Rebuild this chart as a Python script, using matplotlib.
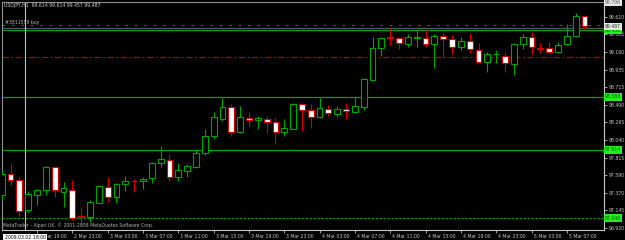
import matplotlib
matplotlib.use('Agg')
import matplotlib.pyplot as plt
import matplotlib.transforms as mtransforms
import numpy as np

# ---------------- data (USDJPY H1, starting 2009-03-02 15:00) ----------------
opens = [97.340, 97.608, 97.531, 97.150, 97.340, 97.404, 97.697, 97.379, 97.404, 97.067,
         97.061, 97.242, 97.442, 97.315, 97.480, 97.519, 97.519, 97.557, 97.748, 97.786,
         97.570, 97.650, 97.700, 97.875, 98.091, 98.307, 98.456, 98.138, 98.316, 98.291,
         98.307, 98.273, 98.138, 98.184, 98.498, 98.422, 98.329, 98.439, 98.371, 98.439,
         98.400, 98.464, 98.804, 99.207, 99.347, 99.334, 99.265, 99.344, 99.342, 99.265,
         99.363, 99.321, 99.220, 99.300, 99.185, 99.036, 99.131, 99.109, 99.007, 99.258,
         99.347, 99.215, 99.207, 99.156, 99.258, 99.363, 99.614]
highs = [97.659, 97.748, 97.570, 97.395, 97.417, 97.709, 97.700, 97.506, 97.531, 97.188,
         97.277, 97.468, 97.570, 97.493, 97.582, 97.544, 97.570, 97.760, 97.964, 97.862,
         97.748, 97.735, 97.913, 98.180, 98.396, 98.571, 98.498, 98.473, 98.400, 98.346,
         98.346, 98.316, 98.307, 98.507, 98.515, 98.498, 98.571, 98.486, 98.473, 98.507,
         98.584, 98.825, 99.347, 99.347, 99.461, 99.355, 99.389, 99.440, 99.449, 99.389,
         99.398, 99.376, 99.347, 99.398, 99.278, 99.164, 99.185, 99.164, 99.278, 99.389,
         99.418, 99.271, 99.291, 99.291, 99.516, 99.660, 99.614]
lows = [97.277, 97.468, 97.073, 97.124, 97.213, 97.340, 97.315, 97.188, 97.022, 96.959,
        96.997, 97.235, 97.251, 97.239, 97.391, 97.379, 97.417, 97.493, 97.697, 97.519,
        97.519, 97.570, 97.684, 97.849, 98.049, 98.286, 98.091, 98.135, 98.209, 98.184,
        98.133, 97.989, 98.095, 98.180, 98.159, 98.197, 98.326, 98.346, 98.329, 98.311,
        98.380, 98.422, 98.795, 99.109, 99.249, 99.194, 99.220, 99.227, 99.227, 98.953,
        99.080, 99.134, 99.185, 99.151, 99.033, 98.909, 99.024, 98.909, 98.867, 99.194,
        99.134, 99.143, 99.143, 99.143, 99.243, 99.347, 99.457]
closes = [97.608, 97.531, 97.141, 97.353, 97.404, 97.697, 97.404, 97.430, 97.048, 97.061,
          97.251, 97.455, 97.315, 97.480, 97.519, 97.513, 97.544, 97.748, 97.799, 97.570,
          97.659, 97.709, 97.871, 98.091, 98.329, 98.456, 98.138, 98.329, 98.291, 98.316,
          98.273, 98.138, 98.189, 98.494, 98.422, 98.329, 98.444, 98.380, 98.439, 98.409,
          98.473, 98.813, 99.207, 99.334, 99.343, 99.274, 99.347, 99.348, 99.258, 99.363,
          99.321, 99.220, 99.300, 99.194, 99.036, 99.134, 99.134, 99.016, 99.258, 99.355,
          99.220, 99.198, 99.156, 99.249, 99.363, 99.612, 99.487]

tick_bars = [4, 8, 12, 16, 20, 24, 28, 32, 36, 40, 44, 48, 52, 56, 60, 64]
tick_labels = ['2 Mar 19:00', '2 Mar 23:00', '3 Mar 03:00', '3 Mar 07:00', '3 Mar 11:00',
               '3 Mar 15:00', '3 Mar 19:00', '3 Mar 23:00', '4 Mar 03:00', '4 Mar 07:00',
               '4 Mar 11:00', '4 Mar 15:00', '4 Mar 19:00', '4 Mar 23:00', '5 Mar 03:00',
               '5 Mar 07:00']
price_ticks = [99.796, 99.610, 99.385, 99.160, 98.935, 98.715, 98.490, 98.265, 98.040,
               97.815, 97.590, 97.370, 97.145, 96.920]
top_price = 99.796

order_price = 99.503      # "#3811559 buy"
bid_line = 99.465
tp_line = 99.436
sl_line = 99.100
hlines_green = [98.588, 97.914]
hline_dashed = 97.046
bid_price = 99.487
vline_pos = 2.64

title_text = 'USDJPY,H1  99.614 99.614 99.457 99.487'
order_text = '#3811559 buy'
footer_text = 'MetaTrader - Alpari UK, \u00a9 2001-2008 MetaQuotes Software Corp.'
vline_text = '2009.03.02 18:00'

# ---------------- styling ----------------
GREEN = '#00a400'
RED = '#d40000'
GRID = '#c0c0c0'
FS = 3.3

fig = plt.figure(figsize=(6.25, 2.4), dpi=100, facecolor='black')
ax = fig.add_axes([2 / 625, 10 / 240, 602 / 625, 228 / 240])
ax.set_facecolor('black')
ax.set_xlim(0.034, 68.21)
ax.set_ylim(96.895, top_price)

o = np.array(opens); h = np.array(highs); l = np.array(lows); c = np.array(closes)
idx = np.arange(len(o))
bull = c >= o
bear = ~bull

# wicks
ax.vlines(idx[bull], l[bull], h[bull], colors=GREEN, linewidth=0.8, zorder=3)
ax.vlines(idx[bear], l[bear], h[bear], colors=RED, linewidth=0.8, zorder=3)
# bodies
ax.bar(idx[bull], c[bull] - o[bull], bottom=o[bull], width=0.66, facecolor='black',
       edgecolor=GREEN, linewidth=0.8, zorder=4)
ax.bar(idx[bear], c[bear] - o[bear], bottom=o[bear], width=0.66, facecolor='white',
       edgecolor=RED, linewidth=0.8, zorder=4)

# horizontal / vertical lines
for p in hlines_green:
    ax.axhline(p, color=GREEN, linewidth=0.9, zorder=2)
ax.axhline(hline_dashed, color=GREEN, linewidth=0.8, dashes=(2, 1.5), zorder=2)
ax.axhline(sl_line, color='#b00000', linewidth=0.9, dashes=(5, 2, 1.5, 2), zorder=2)
ax.axhline(order_price, color='#3f6a3f', linewidth=0.8, dashes=(2.5, 6), zorder=2)
ax.axhline(bid_line, color='#505868', linewidth=0.9, zorder=2)
ax.axhline(tp_line, color=GREEN, linewidth=0.9, zorder=2)
ax.axvline(vline_pos, color=GRID, linewidth=0.8, zorder=2)

# spines
for s in ['left', 'top']:
    ax.spines[s].set_color('#909090'); ax.spines[s].set_linewidth(0.8)
for s in ['right', 'bottom']:
    ax.spines[s].set_color('#c8c8c8'); ax.spines[s].set_linewidth(0.8)

# axis ticks (top price is shown in its own boxed label)
ax.yaxis.tick_right()
ax.set_yticks(price_ticks)
ax.set_yticklabels(['' if p == top_price else f'{p:.3f}' for p in price_ticks])
ax.tick_params(axis='y', colors=GRID, labelsize=FS, length=2, width=0.6, pad=1.5,
               labelcolor='#c8c8c8')
ax.set_xticks(tick_bars)
ax.set_xticklabels(tick_labels, ha='left')
ax.tick_params(axis='x', colors=GRID, labelsize=FS, length=2.5, width=0.6, pad=0.6,
               labelcolor='#c8c8c8')
offset = mtransforms.ScaledTranslation(2 / 100, 0, fig.dpi_scale_trans)
for lbl in ax.get_xticklabels():
    lbl.set_transform(lbl.get_transform() + offset)

ytr = ax.get_yaxis_transform()
def axis_box(price, text, fc, tc, z):
    ax.text(1.0015, price, text, transform=ytr, fontsize=FS, color=tc, ha='left',
            va='center', clip_on=False, zorder=z,
            bbox=dict(boxstyle='square,pad=0.25', fc=fc, ec='none'))

axis_box(top_price, f'{top_price:.3f}', '#e6e6e6', '#606060', 20)
axis_box(tp_line, f'{tp_line:.3f}', '#22ee22', '#006000', 19)
axis_box(bid_price, f'{bid_price:.3f}', '#e6e6e6', '#303030', 21)
for p in hlines_green:
    axis_box(p, f'{p:.3f}', '#22ee22', '#006000', 20)
axis_box(hline_dashed, f'{hline_dashed:.3f}', '#22ee22', '#006000', 20)

# texts
ax.text(0.0035, 0.984, title_text, transform=ax.transAxes, fontsize=FS, color='#d0d0d0',
        ha='left', va='center', zorder=10)
ax.text(0.005, 0.909, order_text, transform=ax.transAxes, fontsize=FS, color='#b8b8b8',
        ha='left', va='center', zorder=10)
ax.text(0.0017, 0.019, footer_text, transform=ax.transAxes, fontsize=FS, color='#b0b0b0',
        ha='left', va='center', zorder=10)
xtr = ax.get_xaxis_transform()
ax.text(vline_pos, -0.022, vline_text, transform=xtr, fontsize=FS, color='black',
        ha='center', va='top', clip_on=False, zorder=30,
        bbox=dict(boxstyle='square,pad=0.3', fc='white', ec='none'))

fig.savefig('out.png', dpi=100, facecolor='black')
